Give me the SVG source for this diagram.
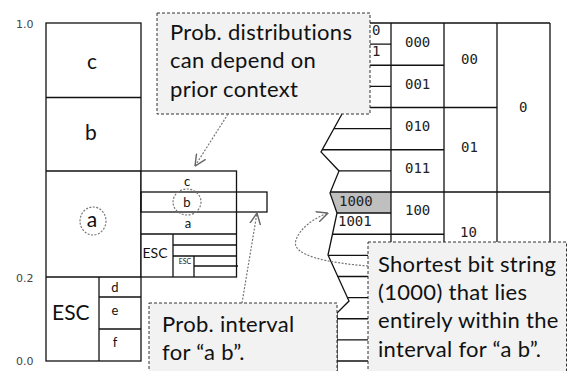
<svg xmlns="http://www.w3.org/2000/svg" width="568" height="371" viewBox="0 0 568 371">
<defs>
<style>
.ln{stroke:#111;stroke-width:1.3;fill:none}
.box{stroke:#111;stroke-width:1.3;fill:#fff}
.call{fill:#f2f2f2;stroke:#333;stroke-width:1;stroke-dasharray:3,2}
.ct{font-family:Lato,"Liberation Sans",sans-serif;font-size:22px;letter-spacing:0.3px;fill:#111}
.big{font-family:Lato,"Liberation Sans",sans-serif;font-size:21px;fill:#111;text-anchor:middle}
.esc{font-family:Lato,"Liberation Sans",sans-serif;font-size:21px;fill:#111}
.sm{font-family:Lato,"Liberation Sans",sans-serif;font-size:13px;fill:#111;text-anchor:middle}
.mono{font-family:"DejaVu Sans Mono","Liberation Mono",monospace;font-size:14px;fill:#222}
.axis{font-family:"DejaVu Sans",sans-serif;font-size:11px;fill:#444}
.dot{stroke:#777;stroke-width:1.2;fill:none;stroke-dasharray:2,1.5}
.conn{stroke:#777;stroke-width:1.2;fill:none;stroke-dasharray:2,1.5}
</style>
<marker id="arr" viewBox="0 0 10 10" refX="9.5" refY="5" markerUnits="userSpaceOnUse" markerWidth="12" markerHeight="12" orient="auto">
<path d="M0,0.5 L9.5,5 L0,9.5" fill="none" stroke="#666" stroke-width="1.2"/>
</marker>
</defs>
<rect width="568" height="371" fill="#fff"/>

<g id="axis-labels">
<text class="axis" x="16" y="28">1.0</text>
<text class="axis" x="16" y="282">0.2</text>
<text class="axis" x="16" y="365">0.0</text>
</g>

<g id="left-column">
<rect class="box" x="46" y="23" width="95" height="338"/>
<line class="ln" x1="46" y1="97.5" x2="141" y2="97.5"/>
<line class="ln" x1="46" y1="171" x2="141" y2="171"/>
<line class="ln" x1="46" y1="277" x2="141" y2="277"/>
<line class="ln" x1="99" y1="277" x2="99" y2="361"/>
<line class="ln" x1="99" y1="297" x2="141" y2="297"/>
<line class="ln" x1="99" y1="329" x2="141" y2="329"/>
<text class="big" x="92" y="69">c</text>
<text class="big" x="91" y="140">b</text>
<text class="big" x="92" y="227">a</text>
<ellipse class="dot" cx="93" cy="221" rx="13" ry="14"/>
<text class="esc" x="52" y="320">ESC</text>
<text class="sm" x="115" y="292">d</text>
<text class="sm" x="115" y="315">e</text>
<text class="sm" x="115" y="347">f</text>
</g>

<g id="middle-column">
<rect class="box" x="141" y="171" width="95.5" height="106"/>
<line class="ln" x1="141" y1="234" x2="236.5" y2="234"/>
<line class="ln" x1="173" y1="234" x2="173" y2="277"/>
<line class="ln" x1="173" y1="245" x2="236.5" y2="245"/>
<line class="ln" x1="173" y1="256" x2="236.5" y2="256"/>
<line class="ln" x1="194" y1="256" x2="194" y2="277"/>
<line class="ln" x1="194" y1="266" x2="238" y2="266"/>
<rect class="ln" x="141" y="192" width="126" height="20"/>
<text class="sm" x="187" y="186">c</text>
<text class="sm" x="187" y="207">b</text>
<ellipse class="dot" cx="187" cy="202" rx="14" ry="13"/>
<text class="sm" x="188" y="228">a</text>
<text class="sm" x="155" y="258" style="font-size:14px">ESC</text>
<text class="sm" x="185" y="264" style="font-size:7px">ESC</text>
</g>

<g id="bit-table">
<polygon points="330.4,192 391,192 391,213 337,213" fill="#bfbfbf"/>
<polyline class="ln" points="342,114 321,152 339,171 330,193 337,213 328,255 349,301 337,313 337,371"/>
<line class="ln" x1="391" y1="23" x2="391" y2="361"/>
<line class="ln" x1="444" y1="23" x2="444" y2="361"/>
<line class="ln" x1="497" y1="23" x2="497" y2="361"/>
<line class="ln" x1="550" y1="23" x2="550" y2="361"/>
<line class="ln" x1="345" y1="23" x2="550" y2="23"/>
<line class="ln" x1="345" y1="44.1" x2="391" y2="44.1"/>
<line class="ln" x1="345" y1="65.25" x2="444" y2="65.25"/>
<line class="ln" x1="345" y1="86.4" x2="391" y2="86.4"/>
<line class="ln" x1="345" y1="107.5" x2="497" y2="107.5"/>
<line class="ln" x1="334" y1="128.6" x2="391" y2="128.6"/>
<line class="ln" x1="322.2" y1="149.75" x2="444" y2="149.75"/>
<line class="ln" x1="338.9" y1="170.9" x2="391" y2="170.9"/>
<line class="ln" x1="330.4" y1="192" x2="550" y2="192"/>
<line class="ln" x1="337" y1="213" x2="391" y2="213"/>
<line class="ln" x1="332.4" y1="234.25" x2="444" y2="234.25"/>
<line class="ln" x1="328.2" y1="255.4" x2="391" y2="255.4"/>
<line class="ln" x1="337.8" y1="276.5" x2="497" y2="276.5"/>
<line class="ln" x1="347.4" y1="297.6" x2="391" y2="297.6"/>
<line class="ln" x1="337" y1="318.75" x2="444" y2="318.75"/>
<line class="ln" x1="337" y1="339.9" x2="391" y2="339.9"/>
<line class="ln" x1="337" y1="361" x2="550" y2="361"/>
<text class="mono" x="372" y="35">0</text>
<text class="mono" x="372" y="56">1</text>
<text class="mono" x="405" y="47">000</text>
<text class="mono" x="405" y="89">001</text>
<text class="mono" x="405" y="131">010</text>
<text class="mono" x="405" y="173">011</text>
<text class="mono" x="405" y="215">100</text>
<text class="mono" x="339" y="206">1000</text>
<text class="mono" x="338" y="226">1001</text>
<text class="mono" x="461" y="64">00</text>
<text class="mono" x="461" y="152">01</text>
<text class="mono" x="460" y="237">10</text>
<text class="mono" x="519" y="112">0</text>
</g>

<g id="callout-context">
<rect class="call" x="157" y="13" width="213" height="101"/>
<text class="ct" x="170" y="40">Prob. distributions</text>
<text class="ct" x="170" y="68">can depend on</text>
<text class="ct" x="170" y="97">prior context</text>
</g>

<g id="callout-interval">
<rect class="call" x="149" y="303" width="188" height="80"/>
<text class="ct" x="162" y="332">Prob. interval</text>
<text class="ct" x="162" y="360">for “a b”.</text>
</g>

<g id="callout-bitstring">
<rect class="call" x="368" y="242" width="198.5" height="140"/>
<text class="ct" x="378" y="272">Shortest bit string</text>
<text class="ct" x="378" y="300">(1000) that lies</text>
<text class="ct" x="378" y="328">entirely within the</text>
<text class="ct" x="378" y="357">interval for “a b”.</text>
</g>

<g id="connectors">
<path class="conn" d="M228,114 L195,166" marker-end="url(#arr)"/>
<path class="conn" d="M242,303 L257,213" marker-end="url(#arr)"/>
<path class="conn" d="M368,266 C330,263 290,256 296,240 C300,228 314,218 328,213" marker-end="url(#arr)"/>
</g>
</svg>
